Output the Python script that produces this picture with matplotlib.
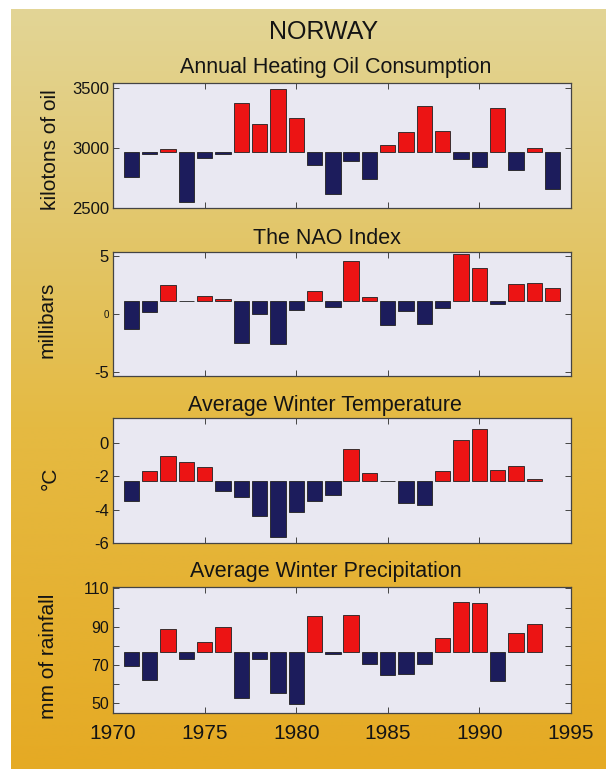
import numpy as np
import matplotlib
matplotlib.use("Agg")
import matplotlib.pyplot as plt
from matplotlib.colors import LinearSegmentedColormap

plt.rcParams["font.family"] = ["Liberation Sans", "DejaVu Sans"]

# ---- data -------------------------------------------------------------
years_oil = list(range(1971, 1995))
oil = [2759, 2954, 2995, 2554, 2915, 2949, 3381, 3203, 3491, 3254, 2859, 2619,
       2892, 2746, 3025, 3132, 3350, 3146, 2907, 2844, 3339, 2819, 3005, 2658]
oil_base = 2970

years_nao = list(range(1971, 1995))
nao = [-1.30, 0.20, 2.50, 1.15, 1.56, 1.30, -2.53, -0.03, -2.62, 0.35, 1.99, 0.63,
       4.58, 1.50, -0.95, 0.26, -0.89, 0.49, 5.19, 4.00, 0.86, 2.57, 2.65, 2.27]
nao_base = 1.1

years_temp = list(range(1971, 1994))
temp = [-3.45, -1.70, -0.75, -1.14, -1.42, -2.85, -3.23, -4.40, -5.63, -4.12,
        -3.49, -3.09, -0.37, -1.80, -2.28, -3.58, -3.73, -1.70, 0.18, 0.84,
        -1.64, -1.40, -2.15]
temp_base = -2.25

years_prec = list(range(1971, 1994))
prec = [69.5, 62.2, 88.6, 73.0, 82.2, 90.0, 52.6, 73.0, 55.6, 49.8, 95.6, 76.0,
        95.9, 70.4, 64.8, 65.5, 70.4, 84.2, 103.0, 102.5, 61.7, 86.9, 91.2]
prec_base = 77

x_ticks = [1970, 1975, 1980, 1985, 1990, 1995]

RED = "#ec1414"
NAVY = "#1c1c5c"
FACE = "#e9e8f2"
INK = "#141414"

W, H = 606, 769
fig = plt.figure(figsize=(W / 100, H / 100), dpi=100)
fig.patch.set_facecolor("white")

# ---- golden page background --------------------------------------------
bg = fig.add_axes([11 / W, 0, 1 - 11 / W, 1 - 9 / H])
bg.set_axis_off()
page = LinearSegmentedColormap.from_list(
    "page",
    [(0.0, (227 / 255, 213 / 255, 150 / 255)),
     (0.30, (226 / 255, 198 / 255, 105 / 255)),
     (0.55, (229 / 255, 186 / 255, 66 / 255)),
     (1.0, (229 / 255, 170 / 255, 36 / 255))])
grad = np.linspace(0, 1, 256).reshape(-1, 1)
bg.imshow(grad, cmap=page, aspect="auto", extent=[0, 1, 0, 1], origin="upper")
bg.set_xlim(0, 1)
bg.set_ylim(0, 1)


def px_axes(top, bottom):
    left, right = 113, 571
    return [left / W, 1 - bottom / H, (right - left) / W, (bottom - top) / H]


def draw_panel(rect, years, vals, base, ylim, yticks, ylabels, label_size=12):
    ax = fig.add_axes(rect)
    ax.set_facecolor(FACE)
    vals = np.asarray(vals, dtype=float)
    colors = [RED if v >= base else NAVY for v in vals]
    ax.bar(years, vals - base, bottom=base, width=0.84, color=colors,
           edgecolor="#202020", linewidth=0.6, zorder=3)
    ax.set_xlim(1970, 1995)
    ax.set_ylim(*ylim)
    ax.set_xticks(x_ticks)
    ax.set_yticks(yticks)
    ax.set_yticklabels(ylabels, fontsize=label_size, color=INK)
    ax.tick_params(direction="in", length=4, width=0.7, color="#444444",
                   top=True, right=True, pad=3)
    for s in ax.spines.values():
        s.set_color("#444444")
        s.set_linewidth(0.9)
    return ax


# Panel 1: heating oil
ax1 = draw_panel(px_axes(83, 208), years_oil, oil, oil_base, (2500, 3545),
                 [2500, 3000, 3500], ["2500", "3000", "3500"])
ax1.tick_params(labelbottom=False)

# Panel 2: NAO index
ax2 = draw_panel(px_axes(252, 376), years_nao, nao, nao_base, (-5.35, 5.35),
                 [-5, 0, 5], ["-5", "0", "5"])
ax2.tick_params(labelbottom=False)
for t in ax2.get_yticklabels():
    if t.get_text() == "0":
        t.set_fontsize(7)

# Panel 3: winter temperature
ax3 = draw_panel(px_axes(418, 543), years_temp, temp, temp_base, (-6.0, 1.5),
                 [-6, -4, -2, 0], ["-6", "-4", "-2", "0"])
ax3.tick_params(labelbottom=False)

# Panel 4: winter precipitation
ax4 = draw_panel(px_axes(587, 713), years_prec, prec, prec_base, (45, 110.7),
                 [50, 60, 70, 80, 90, 100, 110],
                 ["50", "", "70", "", "90", "", "110"], label_size=11.5)
ax4.set_xticklabels([str(y) for y in x_ticks], fontsize=15, color=INK)
ax4.tick_params(axis="x", pad=8)

# ---- titles and axis labels -------------------------------------------
fig.text(324 / W, 1 - 32 / H, "NORWAY", ha="center", va="center",
         fontsize=18, color=INK)
titles = [("Annual Heating Oil Consumption", 336, 68),
          ("The NAO Index", 327, 238),
          ("Average Winter Temperature", 325, 405),
          ("Average Winter Precipitation", 326, 572)]
for txt, x, y in titles:
    fig.text(x / W, 1 - y / H, txt, ha="center", va="center",
             fontsize=15.5, color=INK)

ylabels = [("kilotons of oil", 50, 150),
           ("millibars", 47, 320),
           ("°C", 50, 478),
           ("mm of rainfall", 48, 656)]
for txt, x, y in ylabels:
    fig.text(x / W, 1 - y / H, txt, ha="center", va="center", rotation=90,
             fontsize=15, color=INK)

fig.savefig("out.png", dpi=100)
